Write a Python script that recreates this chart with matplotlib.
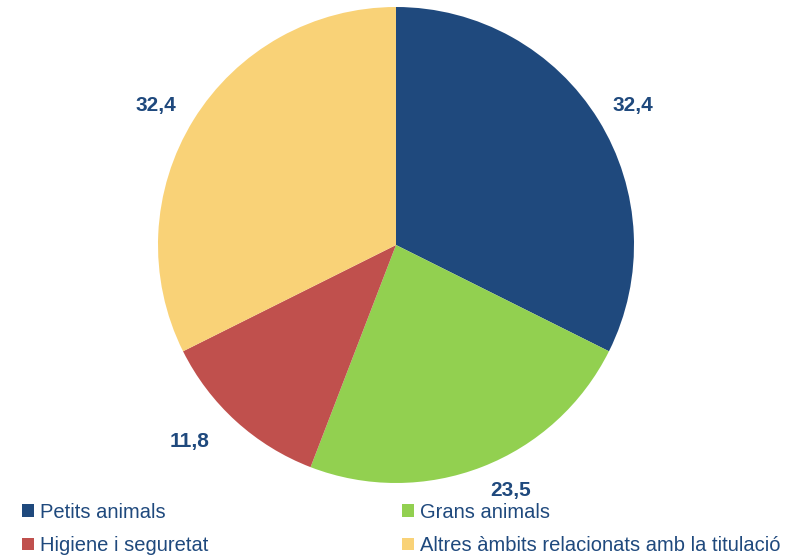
import matplotlib
matplotlib.use('Agg')
import matplotlib.pyplot as plt
from matplotlib.patches import Patch

plt.rcParams['font.family'] = ['Liberation Sans', 'DejaVu Sans']

# Data
categories = ['Petits animals', 'Grans animals', 'Higiene i seguretat',
              'Altres àmbits relacionats amb la titulació']
values = [32.4, 23.5, 11.8, 32.4]
colors = ['#1F497D', '#92D050', '#C0504D', '#F9D277']
text_col = '#1F497D'

W, H = 792, 555
fig = plt.figure(figsize=(W / 100, H / 100), dpi=100)

# pie centre (396, 245) px, radius 238 px
cx, cy, r = 396, 245, 238
ax = fig.add_axes([(cx - r) / W, (H - cy - r) / H, 2 * r / W, 2 * r / H])

labels = [f'{v:.1f}'.replace('.', ',') for v in values]
wedges, texts = ax.pie(values, colors=colors, startangle=90, counterclock=False,
                       labels=labels, labeldistance=1.16,
                       wedgeprops=dict(linewidth=0))
# small nudges (px) to match the original label placement
nudges = [(2, -6), (15, 12), (-21, 8), (-5, -6)]
for t, (dx, dy) in zip(texts, nudges):
    x, y = t.get_position()
    t.set_position((x + dx / r, y + dy / r))
    t.set_color(text_col)
    t.set_fontsize(15)
    t.set_fontweight('bold')
    t.set_ha('center')
    t.set_va('center')
ax.set_xlim(-1, 1)
ax.set_ylim(-1, 1)
ax.set_aspect('equal')
ax.axis('off')

# partially visible unit marker at top right
fig.text(0.957, 1.018, '(%)', color=text_col, fontsize=15, fontweight='bold',
         ha='center', va='center')

# legend, filled row by row: Petits | Grans / Higiene | Altres
order = [0, 2, 1, 3]
handles = [Patch(facecolor=colors[i], edgecolor='none') for i in order]
leg = fig.legend(handles, [categories[i] for i in order], ncol=2, loc='lower left',
                 bbox_to_anchor=(0.005, -0.033), frameon=False,
                 fontsize=14.5, handlelength=0.6, handleheight=0.6,
                 handletextpad=0.3, columnspacing=9.6, labelspacing=0.72)
for t in leg.get_texts():
    t.set_color(text_col)

plt.savefig('out.png', dpi=100)
